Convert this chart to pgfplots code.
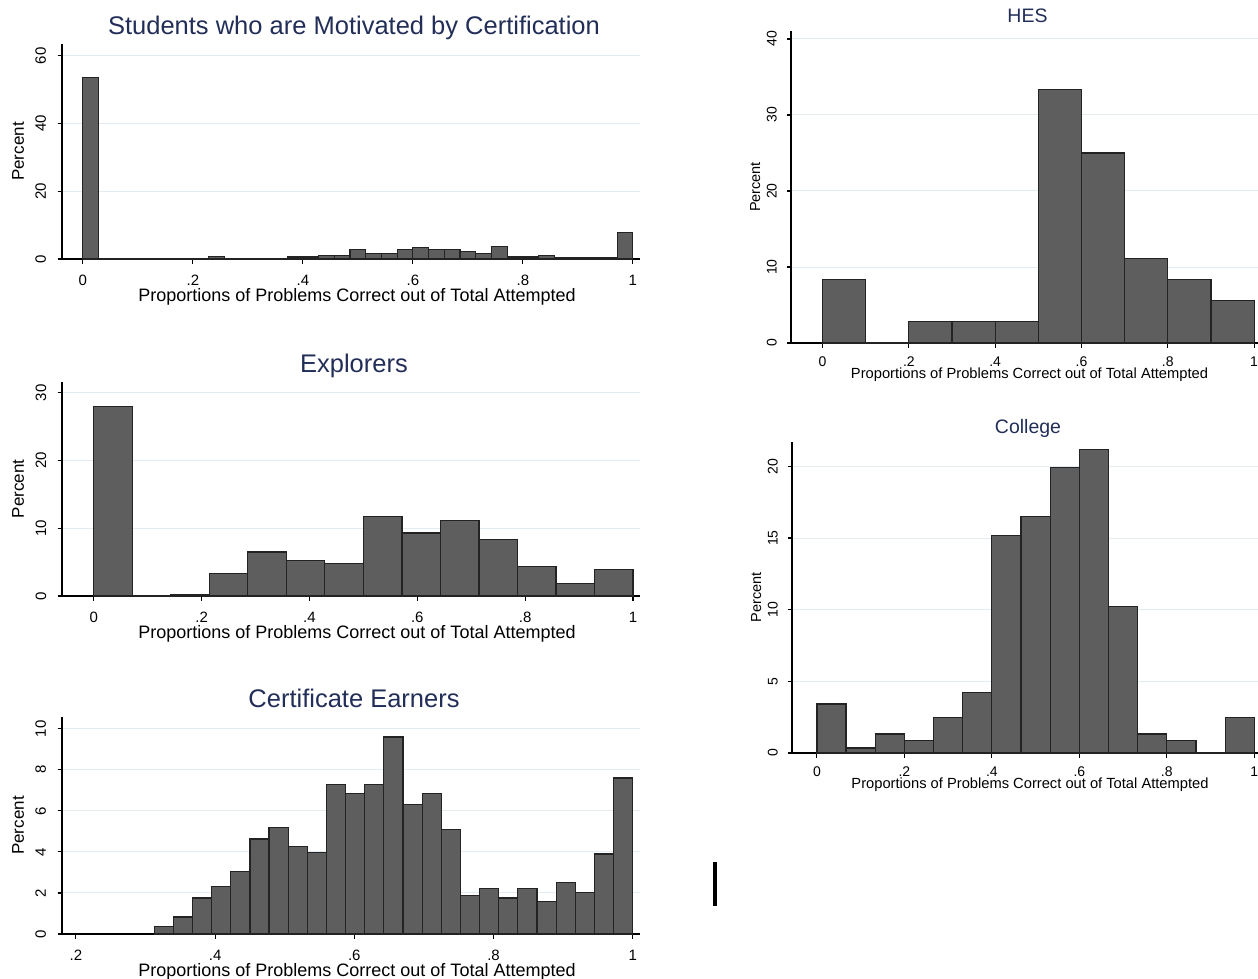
\documentclass[border=0pt]{standalone}
\usepackage{fontspec}
\setmainfont{Liberation Sans}
\usepackage{pgfplots}
\pgfplotsset{compat=1.18}

\definecolor{titlec}{RGB}{34,46,88}
\definecolor{gridc}{RGB}{226,236,241}
\definecolor{barfill}{RGB}{94,94,94}
\definecolor{barline}{RGB}{35,35,35}

\pgfplotsset{
  statahist/.style={
    scale only axis,
    axis x line=bottom, axis y line=left,
    axis line style={-, line width=1.1pt, black},
    ymin=0,
    tick align=outside,
    major tick length=4.5pt,
    every tick/.style={line width=1.1pt, black},
    ymajorgrids,
    grid style={line width=1pt, gridc},
    /pgf/number format/assume math mode=true,
    title style={at={(0.5,1)}, anchor=base, yshift=4pt, xshift=3pt, text=titlec},
  },
  bigpanel/.style={
    statahist,
    width=578pt,
    title style={font=\fontsize{25.5}{28}\selectfont},
    xlabel style={at={(axis description cs:0.5,0)}, anchor=base, yshift=-42.5pt, xshift=6pt, font=\fontsize{18}{20}\selectfont},
    ylabel style={at={(axis description cs:0,0.5)}, anchor=base, yshift=38pt, font=\fontsize{17}{19}\selectfont},
    xticklabel style={anchor=base, yshift=-21.5pt, font=\fontsize{15}{17}\selectfont},
    yticklabel style={xshift=-11.5pt, rotate=90, anchor=base, font=\fontsize{15}{17}\selectfont},
  },
  smallpanel/.style={
    statahist,
    title style={font=\fontsize{19.5}{22}\selectfont, yshift=-1pt},
    xlabel style={at={(axis description cs:0.5,0)}, anchor=base, yshift=-35pt, xshift=5pt, font=\fontsize{14.7}{16}\selectfont},
    ylabel style={at={(axis description cs:0,0.5)}, anchor=base, yshift=31pt, font=\fontsize{14.5}{16}\selectfont},
    xticklabel style={anchor=base, yshift=-19pt, font=\fontsize{14}{16}\selectfont},
    yticklabel style={xshift=-10pt, rotate=90, anchor=base, font=\fontsize{14}{16}\selectfont},
  },
  histbars/.style={ybar interval, fill=barfill, draw=barline, line width=1.2pt},
}

\begin{document}
\begin{tikzpicture}
\path[use as bounding box] (0pt,0pt) rectangle (1258pt,-978pt);

% All students motivated by the certificate (35 bins)
\begin{axis}[bigpanel,
  at={(62pt,-259pt)}, anchor=south west, height=215pt,
  xmin=-0.038, xmax=1.013, ymax=63.5,
  xtick={0,0.2,0.4,0.6,0.8,1}, xticklabels={0,.2,.4,.6,.8,1},
  ytick={0,20,40,60},
  title={Students who are Motivated by Certification},
  xlabel={Proportions of Problems Correct out of Total Attempted},
  ylabel={Percent}]
\addplot[histbars] coordinates {
 (0,53.6) (0.028571,0) (0.057143,0) (0.085714,0) (0.114286,0) (0.142857,0)
 (0.171429,0) (0.2,0) (0.228571,0.7) (0.257143,0) (0.285714,0) (0.314286,0)
 (0.342857,0) (0.371429,0.6) (0.4,0.6) (0.428571,1.1) (0.457143,1.1)
 (0.485714,2.8) (0.514286,1.6) (0.542857,1.6) (0.571429,2.8) (0.6,3.3)
 (0.628571,2.8) (0.657143,2.8) (0.685714,2.3) (0.714286,1.6) (0.742857,3.8)
 (0.771429,0.6) (0.8,0.6) (0.828571,1.1) (0.857143,0.5) (0.885714,0.5)
 (0.914286,0.5) (0.942857,0.5) (0.971429,7.8) (1,7.8)
};
\end{axis}

% Explorers (14 bins)
\begin{axis}[bigpanel,
  at={(62pt,-596pt)}, anchor=south west, height=214pt,
  xmin=-0.059, xmax=1.013, ymax=31.6,
  xtick={0,0.2,0.4,0.6,0.8,1}, xticklabels={0,.2,.4,.6,.8,1},
  ytick={0,10,20,30},
  title={Explorers},
  xlabel={Proportions of Problems Correct out of Total Attempted},
  ylabel={Percent}]
\addplot[histbars] coordinates {
 (0,28.0) (0.071429,0) (0.142857,0.25) (0.214286,3.35) (0.285714,6.5)
 (0.357143,5.3) (0.428571,4.8) (0.5,11.8) (0.571429,9.3) (0.642857,11.2)
 (0.714286,8.4) (0.785714,4.4) (0.857143,1.9) (0.928571,3.9) (1,3.9)
};
\end{axis}

% Certificate earners (25 bins)
\begin{axis}[bigpanel,
  at={(62pt,-934pt)}, anchor=south west, height=217pt,
  xmin=0.18, xmax=1.0105, ymax=10.57,
  xtick={0.2,0.4,0.6,0.8,1}, xticklabels={.2,.4,.6,.8,1},
  ytick={0,2,4,6,8,10},
  title={Certificate Earners},
  xlabel={Proportions of Problems Correct out of Total Attempted},
  ylabel={Percent}]
\addplot[histbars] coordinates {
 (0.3125,0.36) (0.34,0.83) (0.3675,1.75) (0.395,2.3) (0.4225,3.05)
 (0.45,4.63) (0.4775,5.2) (0.505,4.25) (0.5325,3.98) (0.56,7.3)
 (0.5875,6.83) (0.615,7.3) (0.6425,9.6) (0.67,6.3) (0.6975,6.83)
 (0.725,5.08) (0.7525,1.87) (0.78,2.2) (0.8075,1.75) (0.835,2.2)
 (0.8625,1.6) (0.89,2.5) (0.9175,2.03) (0.945,3.9) (0.9725,7.6) (1,7.6)
};
\end{axis}

% HES (10 bins)
\begin{axis}[smallpanel,
  at={(791pt,-343pt)}, anchor=south west, width=467pt, height=312pt,
  xmin=-0.073, xmax=1.009, ymax=41.05,
  xtick={0,0.2,0.4,0.6,0.8,1}, xticklabels={0,.2,.4,.6,.8,1},
  ytick={0,10,20,30,40},
  title={HES},
  xlabel={Proportions of Problems Correct out of Total Attempted},
  ylabel={Percent}]
\addplot[histbars] coordinates {
 (0,8.33) (0.1,0) (0.2,2.78) (0.3,2.78) (0.4,2.78) (0.5,33.33)
 (0.6,25.0) (0.7,11.11) (0.8,8.33) (0.9,5.56) (1,5.56)
};
\end{axis}

% College (15 bins)
\begin{axis}[smallpanel,
  at={(792pt,-753pt)}, anchor=south west, width=466pt, height=311pt,
  xmin=-0.057, xmax=1.0085, ymax=21.7,
  xtick={0,0.2,0.4,0.6,0.8,1}, xticklabels={0,.2,.4,.6,.8,1},
  ytick={0,5,10,15,20},
  title={College},
  xlabel={Proportions of Problems Correct out of Total Attempted},
  ylabel={Percent}]
\addplot[histbars] coordinates {
 (0,3.42) (0.066667,0.35) (0.133333,1.33) (0.2,0.9) (0.266667,2.5)
 (0.333333,4.23) (0.4,15.2) (0.466667,16.5) (0.533333,19.9) (0.6,21.2)
 (0.666667,10.2) (0.733333,1.33) (0.8,0.9) (0.866667,0) (0.933333,2.5) (1,2.5)
};
\end{axis}

% stray vertical stroke
\fill[black] (713pt,-862pt) rectangle (716.5pt,-906pt);
\end{tikzpicture}
\end{document}
